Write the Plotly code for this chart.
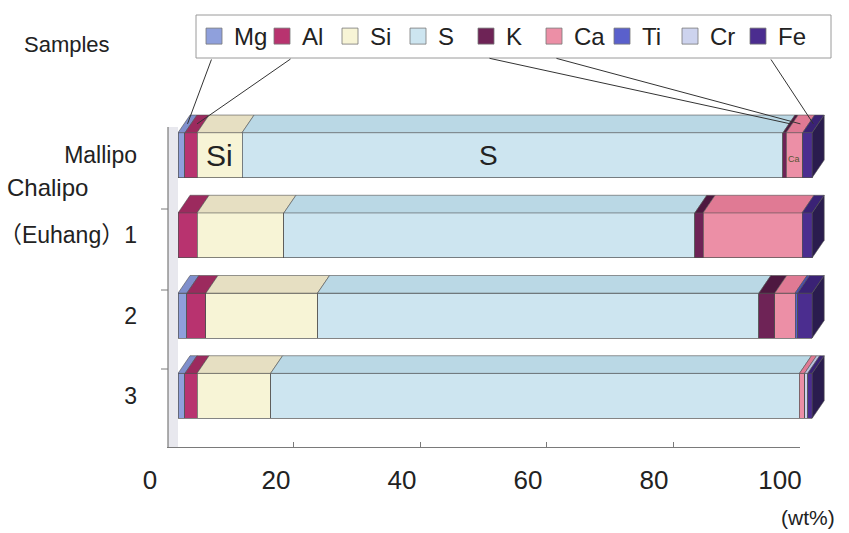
import plotly.graph_objects as go

# ---------------- data ----------------
samples = ["Mallipo", "（Euhang）1", "2", "3"]
sample_pos = [0, 1, 2, 3]
elements = ["Mg", "Al", "Si", "S", "K", "Ca", "Ti", "Cr", "Fe"]
mg = [1.1, 0.0, 1.4, 1.1]
al = [1.9, 3.0, 3.0, 1.9]
si = [7.1, 13.7, 17.6, 11.6]
s_ = [85.3, 64.8, 69.6, 83.4]
k_ = [0.5, 1.3, 2.5, 0.0]
ca = [2.6, 15.6, 3.2, 0.8]
ti = [0.0, 0.0, 0.4, 0.0]
cr = [0.0, 0.0, 0.0, 0.5]
fe = [1.5, 1.6, 2.3, 0.7]
x_ticks = [0, 20, 40, 60, 80, 100]
x_tick_labels = ["0", "20", "40", "60", "80", "100"]

series = [mg, al, si, s_, k_, ca, ti, cr, fe]

front_colors = ["#8FA0DC", "#B8336F", "#F7F4D6", "#CDE5F0", "#6E2356",
                "#EC8FA6", "#5A60CC", "#CDD3EE", "#4B2D8F"]
top_colors = ["#7F8FCC", "#9C2A5E", "#E6DFC2", "#BAD8E5", "#4E1840",
              "#E07A94", "#474DB5", "#B9C0DF", "#3A2275"]
side_color = "#2A1C4E"
EDGE = "#505050"

SANS = "Liberation Sans, Arial, Noto Sans CJK JP, sans-serif"
NARROW = "Liberation Sans Narrow, Arial Narrow, Liberation Sans, Arial, sans-serif"

# ---------------- geometry (layout) ----------------
W, H = 849, 533
XD = (178, 828)
XR = (0, 102.5)
YD = (95, 452)
YR = (3.7, -0.75)   # reversed axis, YR[1] at top
BAR_W = 0.56
DX = 1.9
DY = 0.22


def fx(px):
    return px / W


def fy(py):
    return 1 - py / H


def data_to_px(x, y):
    px = XD[0] + (x - XR[0]) / (XR[1] - XR[0]) * (XD[1] - XD[0])
    py = YD[0] + (y - YR[1]) / (YR[0] - YR[1]) * (YD[1] - YD[0])
    return px, py


fig = go.Figure()

# front faces (stacked bars)
for el, vals, col in zip(elements, series, front_colors):
    fig.add_trace(go.Bar(
        y=sample_pos, x=vals, orientation="h", width=BAR_W,
        marker=dict(color=col, line=dict(color=EDGE, width=0.7)),
        name=el, legendgroup=el, showlegend=False, hoverinfo="x+name"))

# top faces
for j, (el, vals) in enumerate(zip(elements, series)):
    xs, ys = [], []
    for i in range(len(samples)):
        cum = sum(series[m][i] for m in range(j))
        v = vals[i]
        if v <= 0:
            continue
        yt = sample_pos[i] - BAR_W / 2
        xs += [cum, cum + v, cum + v + DX, cum + DX, cum, None]
        ys += [yt, yt, yt - DY, yt - DY, yt, None]
    fig.add_trace(go.Scatter(
        x=xs, y=ys, mode="lines", fill="toself", fillcolor=top_colors[j],
        line=dict(color=EDGE, width=0.6), showlegend=False, hoverinfo="skip"))

# right side faces
for i in range(len(samples)):
    tot = sum(series[m][i] for m in range(len(elements)))
    yt = sample_pos[i] - BAR_W / 2
    yb = sample_pos[i] + BAR_W / 2
    fig.add_trace(go.Scatter(
        x=[tot, tot + DX, tot + DX, tot, tot],
        y=[yt, yt - DY, yb - DY, yb, yt],
        mode="lines", fill="toself", fillcolor=side_color,
        line=dict(color=EDGE, width=0.6), showlegend=False, hoverinfo="skip"))

# legend entries
for el, col in zip(elements, front_colors):
    fig.add_trace(go.Scatter(
        x=[None], y=[None], mode="markers", name=el, legendgroup=el,
        marker=dict(symbol="square", size=16, color=col,
                    line=dict(color="#777", width=0.8))))

# helper traces so the label axis and floor axis are drawn
fig.add_trace(go.Scatter(x=[0, 100], y=[None, None], xaxis="x2", yaxis="y",
                         mode="markers", showlegend=False, hoverinfo="skip"))
fig.add_trace(go.Scatter(x=[0, 100], y=[None, None], xaxis="x3", yaxis="y",
                         mode="markers", showlegend=False, hoverinfo="skip"))

# ---------------- annotations ----------------
ann = []
ann.append(dict(text="Samples", x=fx(22), y=fy(45), xref="paper", yref="paper",
                xanchor="left", yanchor="middle", showarrow=False,
                font=dict(size=22, family=SANS, color="#222")))
ann.append(dict(text="Chalipo", x=fx(5), y=fy(188), xref="paper", yref="paper",
                xanchor="left", yanchor="middle", showarrow=False,
                font=dict(size=24, family=SANS, color="#222")))
ann.append(dict(text="(wt%)", x=fx(808), y=fy(517), xref="paper", yref="paper",
                xanchor="center", yanchor="middle", showarrow=False,
                font=dict(size=21, family=NARROW, color="#222")))

# in-bar labels on Mallipo
row = 0
cum_m = [sum(series[m][row] for m in range(j)) for j in range(len(elements))]
ann.append(dict(text="Si", x=cum_m[2] + si[row] / 2, y=sample_pos[row], xref="x", yref="y",
                showarrow=False, font=dict(size=30, family=SANS, color="#222")))
ann.append(dict(text="S", x=49.0, y=sample_pos[row], xref="x", yref="y",
                showarrow=False, font=dict(size=28, family=NARROW, color="#222")))
ann.append(dict(text="Ca", x=cum_m[5] + ca[row] / 2, y=sample_pos[row] + 0.05, xref="x", yref="y",
                showarrow=False, font=dict(size=9, family=NARROW, color="#553")))

# leader lines from legend to Mallipo segments
leader_tails = {"Mg": (212, 58), "Al": (292, 58), "K": (488, 58), "Ca": (555, 58), "Fe": (770, 58)}
for el, (tx, ty) in leader_tails.items():
    j = elements.index(el)
    hx = cum_m[j] + series[j][row] / 2 + DX * 0.5
    hy = sample_pos[row] - BAR_W / 2 - DY * 0.5
    hpx, hpy = data_to_px(hx, hy)
    ann.append(dict(text="", x=hx, y=hy, xref="x", yref="y", showarrow=True,
                    arrowhead=0, arrowwidth=1, arrowcolor="#333",
                    ax=tx - hpx, ay=ty - hpy))

# ---------------- decorative wall and legend frame ----------------
shapes = [
    dict(type="rect", xref="paper", yref="paper", x0=fx(196), x1=fx(831),
         y0=fy(58), y1=fy(15), fillcolor="white",
         line=dict(color="#9A9A9A", width=1), layer="below"),
    dict(type="rect", xref="paper", yref="paper", x0=fx(168), x1=fx(178),
         y0=fy(447), y1=fy(127), fillcolor="#E8E8EE", line=dict(width=0), layer="below"),
    dict(type="line", xref="paper", yref="paper", x0=fx(168), x1=fx(168),
         y0=fy(447), y1=fy(127), line=dict(color="#7A7A7A", width=1.2)),
]
for tpy in [209, 290, 369]:
    shapes.append(dict(type="line", xref="paper", yref="paper", x0=fx(161), x1=fx(168),
                       y0=fy(tpy), y1=fy(tpy), line=dict(color="#7A7A7A", width=1)))

fig.update_layout(
    width=W, height=H, margin=dict(l=0, r=0, t=0, b=0, autoexpand=False),
    paper_bgcolor="white", plot_bgcolor="rgba(0,0,0,0)",
    barmode="stack", hovermode="closest",
    font=dict(family=SANS, color="#222"),
    showlegend=True,
    legend=dict(orientation="h", x=fx(194), y=fy(14), xanchor="left", yanchor="top",
                borderwidth=0, bgcolor="rgba(0,0,0,0)",
                font=dict(size=24, family=NARROW, color="#222"),
                entrywidth=23, entrywidthmode="pixels", itemwidth=30,
                traceorder="normal"),
    xaxis=dict(domain=[fx(XD[0]), fx(XD[1])], range=list(XR), visible=False,
               automargin=False),
    yaxis=dict(domain=[fy(YD[1]), fy(YD[0])], range=list(YR),
               tickvals=sample_pos, ticktext=samples, automargin=False,
               showgrid=False, zeroline=False, showline=False, ticks="",
               ticklabelstandoff=40,
               tickfont=dict(size=23, family=SANS, color="#222")),
    xaxis2=dict(domain=[fx(150), fx(780)], range=[0, 100], anchor="free",
                position=fy(462), tickvals=x_ticks, ticktext=x_tick_labels,
                automargin=False,
                showgrid=False, zeroline=False, showline=False, ticks="",
                tickfont=dict(size=26, family=NARROW, color="#222")),
    xaxis3=dict(domain=[fx(167), fx(800)], range=[0, 100], anchor="free",
                position=fy(447), tickvals=x_ticks, showticklabels=False,
                automargin=False,
                showgrid=False, zeroline=False, showline=True,
                linecolor="#7A7A7A", linewidth=1.2,
                ticks="inside", ticklen=5, tickcolor="#7A7A7A"),
    annotations=ann,
    shapes=shapes,
)

fig.write_html("out.html", config={"displayModeBar": False},
               post_script="document.body.style.margin='0';document.body.style.overflow='hidden';")
